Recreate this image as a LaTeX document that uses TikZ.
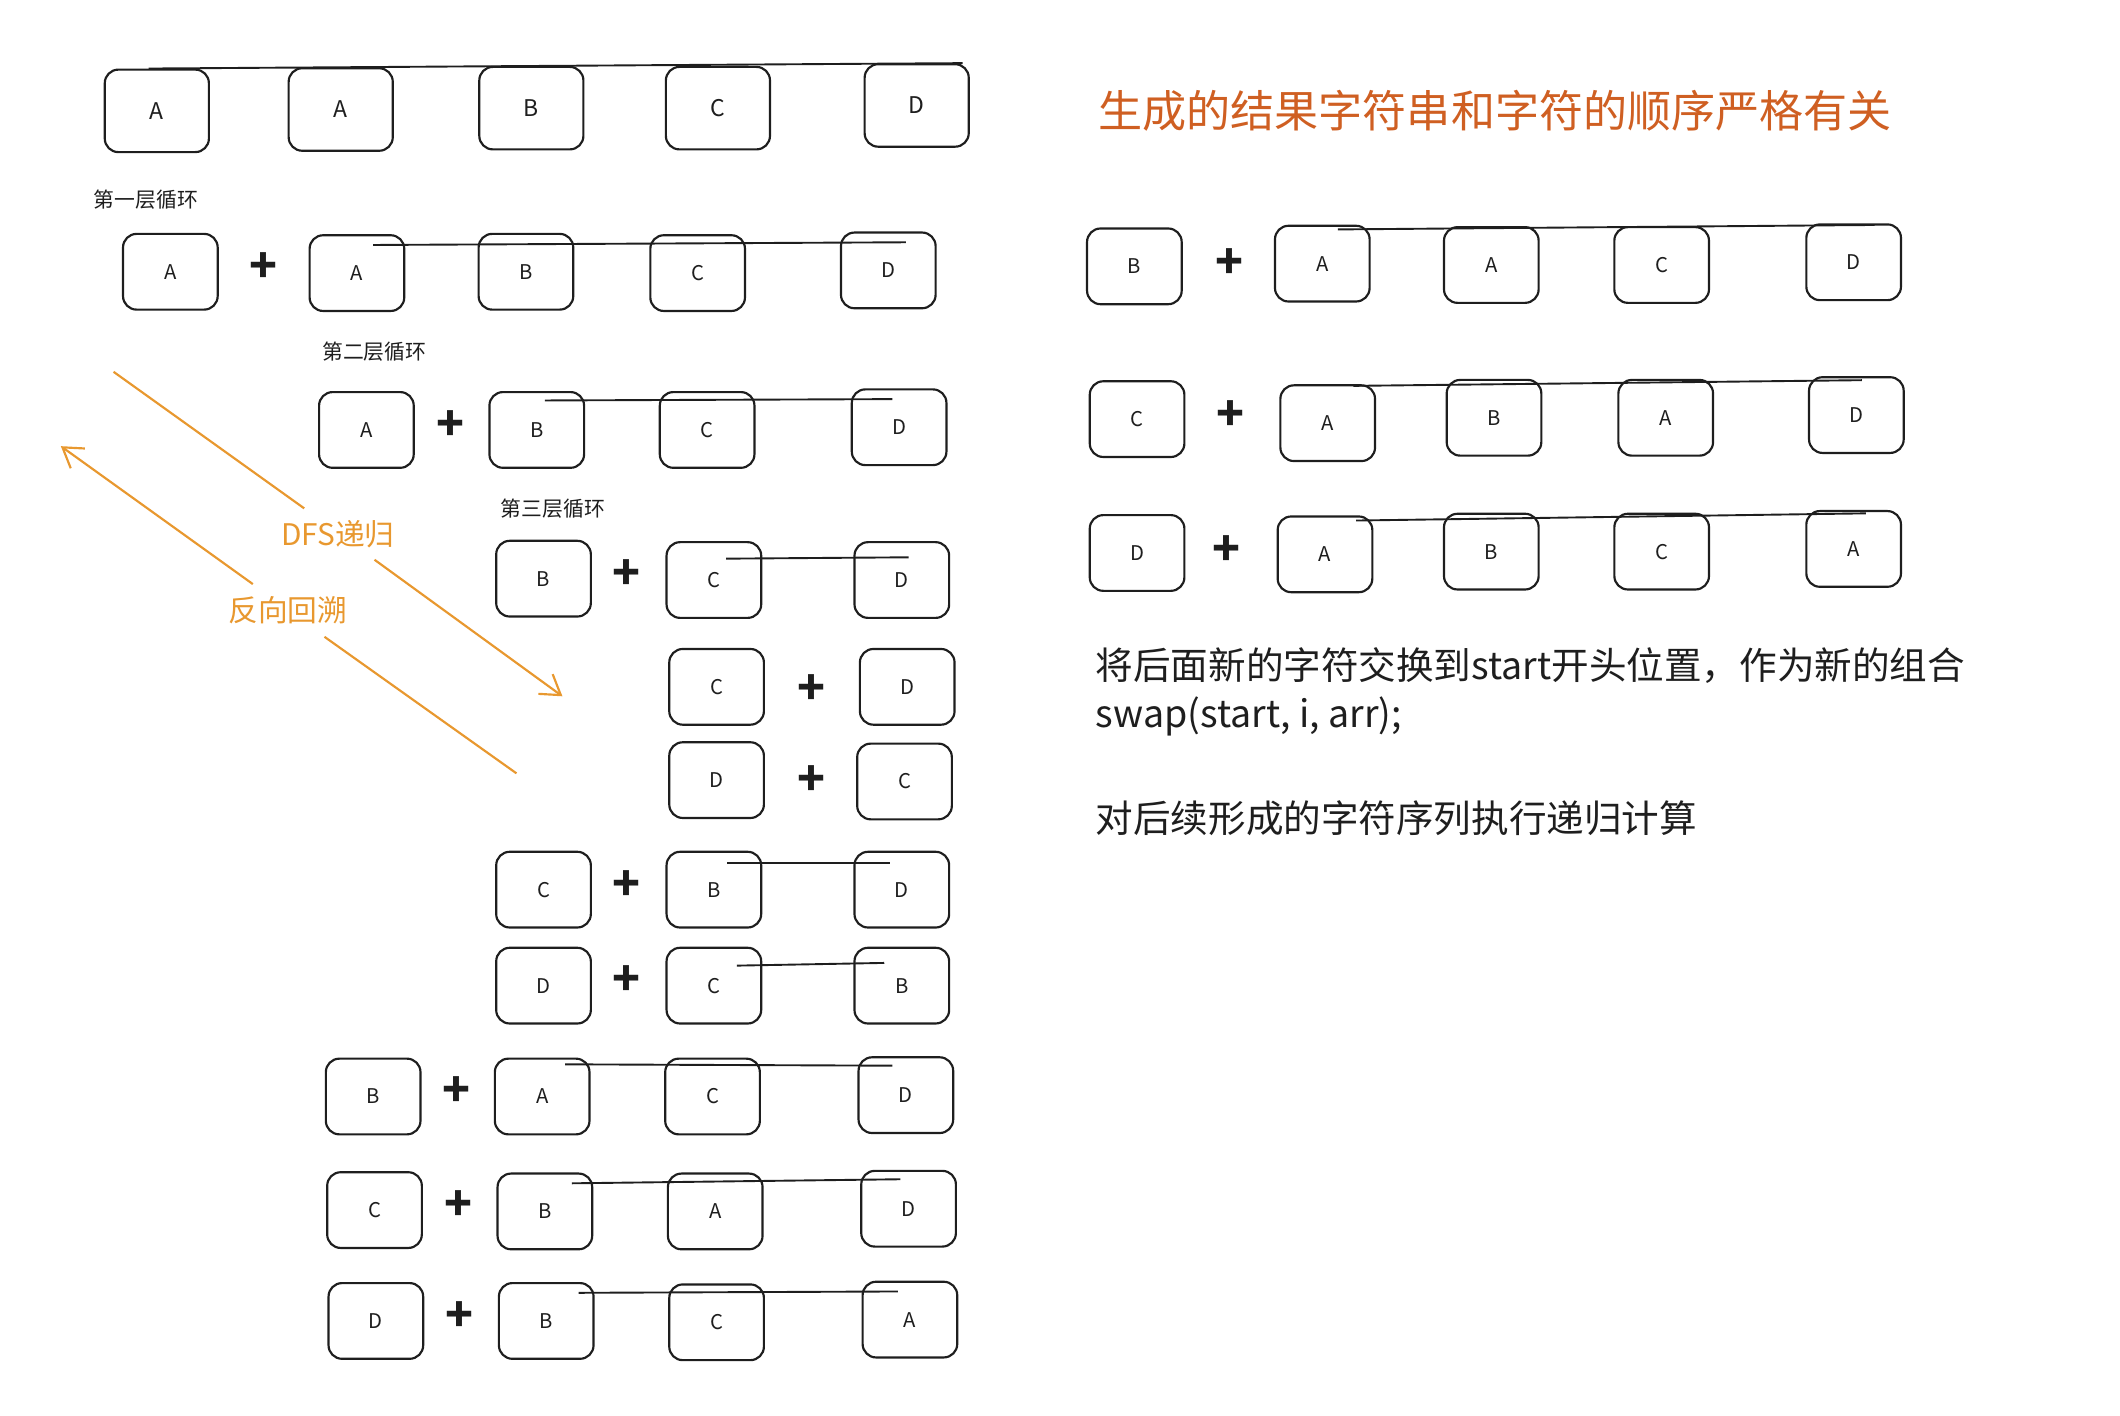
\documentclass[tikz,border=0pt]{standalone}
\usepackage{fontspec}
\setmainfont{Noto Sans CJK SC}
\usetikzlibrary{arrows.meta}
\definecolor{ink}{HTML}{1E1E1E}
\definecolor{orng}{HTML}{E8982F}
\definecolor{rust}{HTML}{CF5F22}

\begin{document}
\begin{tikzpicture}[x=0.5pt, y=-0.5pt,
    box/.style={draw=ink, line width=0.8pt, rounded corners=5pt, minimum width=35pt, minimum height=28pt, inner sep=0pt, text=ink, font=\fontsize{7.5}{9}\selectfont},
    bigbox/.style={box, minimum width=38.5pt, minimum height=30.5pt, font=\fontsize{8.5}{10}\selectfont},
    plus/.style={inner sep=0pt, text=ink, font=\fontsize{17}{17}\selectfont\bfseries},
    link/.style={draw=ink, line width=0.7pt},
    lbl/.style={anchor=west, inner sep=0pt, text=ink, font=\fontsize{7.7}{9}\selectfont},
    note/.style={anchor=west, inner sep=0pt, text=ink, font=\fontsize{13.9}{16}\selectfont},
    flow/.style={draw=orng, line width=0.8pt},
    tag/.style={inner sep=0pt, text=orng, font=\fontsize{11}{12}\selectfont}]
    \useasboundingbox (0,0) rectangle (1568,1047);

    % original string
    \node at (116,82) [bigbox] (r0a) {A};
    \node at (252,81) [bigbox] (r0b) {A};
    \node at (393,80) [bigbox] (r0c) {B};
    \node at (531,80) [bigbox] (r0d) {C};
    \node at (678,78) [bigbox] (r0e) {D};
    \draw [link] ([xshift=-3pt]r0a.north) -- ([xshift=17pt]r0e.north);

    % first level
    \node at (69,148) [lbl] (lvl1) {第一层循环};
    \node at (126,201) [box] (r1a) {A};
    \node at (195,198) [plus] (p1) {+};
    \node at (264,202) [box] (r1b) {A};
    \node at (389,201) [box] (r1c) {B};
    \node at (516,202) [box] (r1d) {C};
    \node at (657,200) [box] (r1e) {D};
    \draw [link] ([shift={(6pt,-4pt)}]r1b.north) -- ([shift={(6.5pt,-4pt)}]r1e.north);

    % second level
    \node at (238,260) [lbl] (lvl2) {第二层循环};
    \node at (271,318) [box] (r2a) {A};
    \node at (333,315) [plus] (p2) {+};
    \node at (397,318) [box] (r2b) {B};
    \node at (523,318) [box] (r2c) {C};
    \node at (665,316) [box] (r2d) {D};
    \draw [link] ([shift={(3pt,-3.5pt)}]r2b.north) -- ([shift={(-2.5pt,-4pt)}]r2d.north);

    % third level
    \node at (370,376) [lbl] (lvl3) {第三层循环};
    \node at (402,428) [box] (r3a) {B};
    \node at (463,425) [plus] (p3) {+};
    \node at (528,429) [box] (r3b) {C};
    \node at (667,429) [box] (r3c) {D};
    \draw [link] ([shift={(4.5pt,-6.5pt)}]r3b.north) -- ([shift={(2.5pt,-6pt)}]r3c.north);

    \node at (530,508) [box] (r4a) {C};
    \node at (600,510) [plus] (p4) {+};
    \node at (671,508) [box] (r4b) {D};

    \node at (530,577) [box] (r5a) {D};
    \node at (600,577) [plus] (p5) {+};
    \node at (669,578) [box] (r5b) {C};

    \node at (402,658) [box] (r6a) {C};
    \node at (463,655) [plus] (p6) {+};
    \node at (528,658) [box] (r6b) {B};
    \node at (667,658) [box] (r6c) {D};
    \draw [link] ([shift={(5pt,-4.5pt)}]r6b.north) -- ([shift={(-4.5pt,-4.5pt)}]r6c.north);

    \node at (402,729) [box] (r7a) {D};
    \node at (463,725) [plus] (p7) {+};
    \node at (528,729) [box] (r7b) {C};
    \node at (667,729) [box] (r7c) {B};
    \draw [link] ([shift={(8.5pt,-7pt)}]r7b.north) -- ([shift={(-6.5pt,-6pt)}]r7c.north);

    \node at (276,811) [box] (r8a) {B};
    \node at (338,807) [plus] (p8) {+};
    \node at (401,811) [box] (r8b) {A};
    \node at (527,811) [box] (r8c) {C};
    \node at (670,810) [box] (r8d) {D};
    \draw [link] ([shift={(8.5pt,-2.5pt)}]r8b.north) -- ([shift={(-5pt,-3.5pt)}]r8d.north);

    \node at (277,895) [box] (r9a) {C};
    \node at (339,892) [plus] (p9) {+};
    \node at (403,896) [box] (r9b) {B};
    \node at (529,896) [box] (r9c) {A};
    \node at (672,894) [box] (r9d) {D};
    \draw [link] ([shift={(10pt,-4pt)}]r9b.north) -- ([shift={(-3pt,-3.5pt)}]r9d.north);

    \node at (278,977) [box] (r10a) {D};
    \node at (340,974) [plus] (p10) {+};
    \node at (404,977) [box] (r10b) {B};
    \node at (530,978) [box] (r10c) {C};
    \node at (673,976) [box] (r10d) {A};
    \draw [link] ([shift={(12pt,-4pt)}]r10b.north) -- ([shift={(-4.5pt,-4pt)}]r10d.north);

    % recursion and backtracking
    \coordinate (dfsA) at (84,275);
    \coordinate (dfsB) at (225,376);
    \coordinate (dfsC) at (277,414);
    \coordinate (dfsD) at (416,515);
    \node at (250,395) [tag] (dfs) {DFS递归};
    \draw [flow] (dfsA) -- (dfsB);
    \draw [flow, -{Straight Barb[length=7pt,width=9pt]}] (dfsC) -- (dfsD);

    \coordinate (bkA) at (382,572);
    \coordinate (bkB) at (240,471);
    \coordinate (bkC) at (187,432);
    \coordinate (bkD) at (45,330);
    \node at (213,451) [tag] (back) {反向回溯};
    \draw [flow] (bkA) -- (bkB);
    \draw [flow, -{Straight Barb[length=7pt,width=9pt]}] (bkC) -- (bkD);

    % right side
    \node at (812,82) [anchor=west, inner sep=0pt, text=rust, font=\fontsize{16.3}{18}\selectfont] (title) {生成的结果字符串和字符的顺序严格有关};

    \node at (839,197) [box] (s1a) {B};
    \node at (909,195) [plus] (q1) {+};
    \node at (978,195) [box] (s1b) {A};
    \node at (1103,196) [box] (s1c) {A};
    \node at (1229,196) [box] (s1d) {C};
    \node at (1371,194) [box] (s1e) {D};
    \draw [link] ([shift={(5.75pt,-1.75pt)}]s1b.north) -- ([shift={(7.75pt,-0.6pt)}]s1e.north);

    \node at (841,310) [box] (s2a) {C};
    \node at (910,307) [plus] (q2) {+};
    \node at (982,313) [box] (s2b) {A};
    \node at (1105,309) [box] (s2c) {B};
    \node at (1232,309) [box] (s2d) {A};
    \node at (1373,307) [box] (s2e) {D};
    \draw [link] ([shift={(9.5pt,-0.6pt)}]s2b.north) -- ([shift={(2pt,-1.5pt)}]s2e.north);

    \node at (841,409) [box] (s3a) {D};
    \node at (907,407) [plus] (q3) {+};
    \node at (980,410) [box] (s3b) {A};
    \node at (1103,408) [box] (s3c) {B};
    \node at (1229,408) [box] (s3d) {C};
    \node at (1371,406) [box] (s3e) {A};
    \draw [link] ([shift={(11.5pt,-1.9pt)}]s3b.north) -- ([shift={(4.5pt,-1.25pt)}]s3e.north);

    \node at (810,492) [note] (swap) {将后面新的字符交换到start开头位置，作为新的组合};
    \node at (810,530) [note] (code) {swap(start, i, arr);};
    \node at (810,605) [note] (rec) {对后续形成的字符序列执行递归计算};
\end{tikzpicture}
\end{document}
